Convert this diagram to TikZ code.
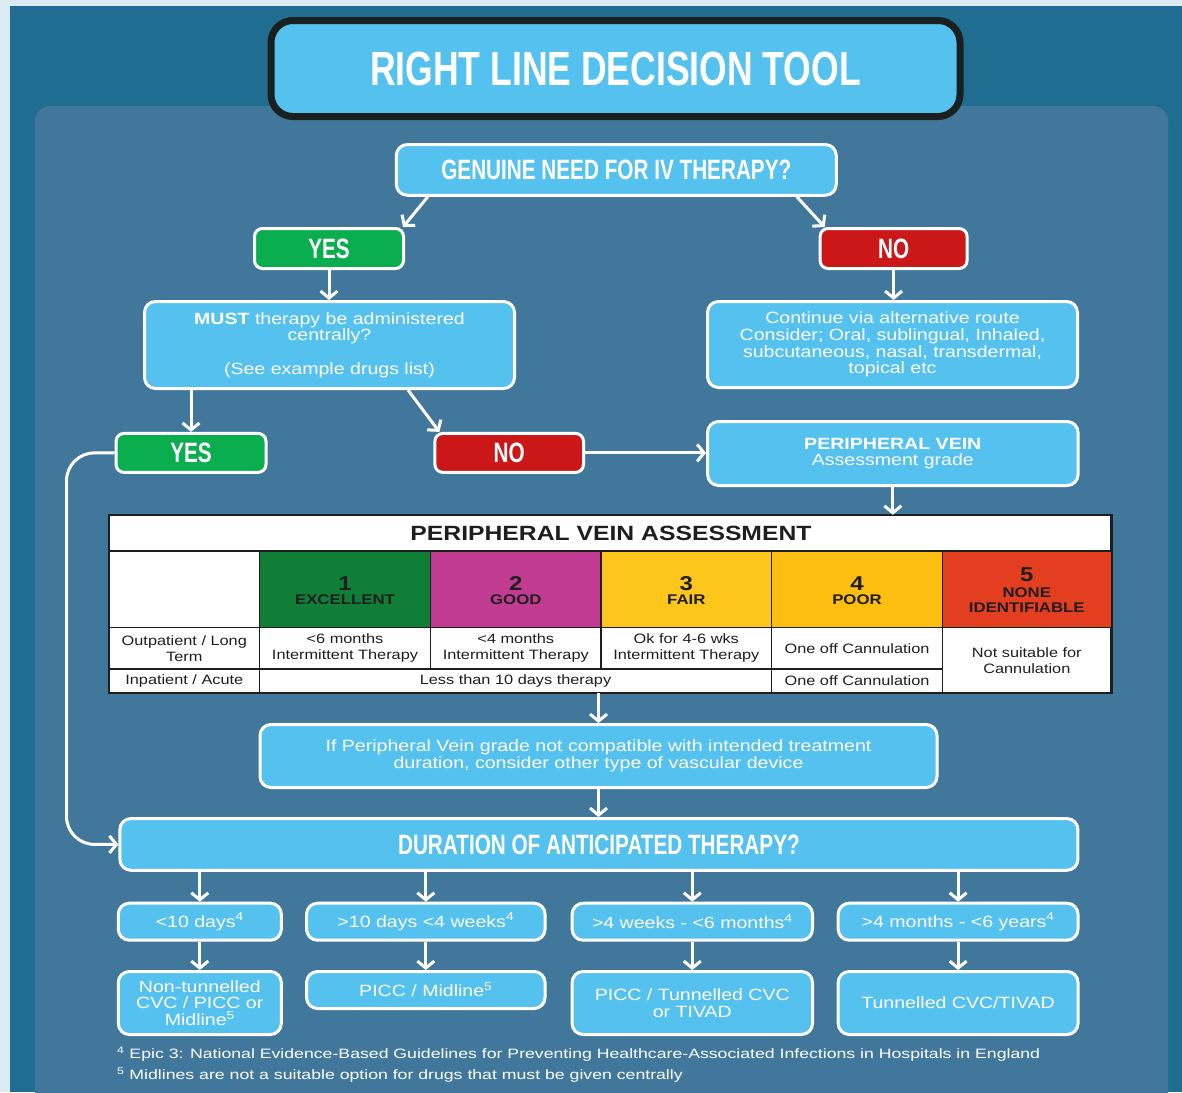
\documentclass[tikz,border=0pt]{standalone}
\usepackage{fontspec}
\setmainfont{Liberation Sans}[FakeStretch=1.2]
\newfontfamily\headfont{Liberation Sans}[FakeStretch=0.74]
\newfontfamily\footfont{Liberation Sans}[FakeStretch=1.3]
\usetikzlibrary{arrows.meta}
\definecolor{pale}{HTML}{DCEBF1}
\definecolor{bgteal}{HTML}{1F6E91}
\definecolor{panel}{HTML}{41779A}
\definecolor{boxblue}{HTML}{55C1EE}
\definecolor{yesgreen}{HTML}{0BAE4F}
\definecolor{nored}{HTML}{CC1719}
\definecolor{gexc}{HTML}{117E37}
\definecolor{ggood}{HTML}{C13B92}
\definecolor{gfair}{HTML}{FCC61C}
\definecolor{gpoor}{HTML}{FDBE10}
\definecolor{gnone}{HTML}{E33E1F}
\definecolor{tabtext}{HTML}{1E1E1E}
\definecolor{titleedge}{HTML}{1A1F20}
\newcommand\bsz{\fontsize{16.3pt}{16.6pt}\selectfont}
\newcommand\tsz{\fontsize{13.6pt}{16pt}\selectfont}
\newcommand\hsz{\headfont\bfseries\fontsize{28pt}{30pt}\selectfont}
\tikzset{
  bbox/.style={draw=white, line width=3pt, fill=boxblue, rounded corners=11pt,
    text=white, align=center, inner sep=0pt, font=\bsz},
  hbox/.style={bbox, font=\hsz},
  yesbox/.style={hbox, fill=yesgreen, rounded corners=8pt},
  nobox/.style={hbox, fill=nored, rounded corners=8pt},
  arr/.style={draw=white, line width=3pt, -{Straight Barb[length=7pt,width=17pt]}},
  grid/.style={draw=tabtext, line width=1.5pt},
  cell/.style={text=tabtext, align=center, inner sep=0pt, font=\tsz},
  grade/.style={text=tabtext, align=center, inner sep=0pt, font=\bfseries\fontsize{14pt}{15pt}\selectfont},
  gnum/.style={text=tabtext, inner sep=0pt, font=\bfseries\fontsize{20pt}{20pt}\selectfont},
  foot/.style={text=white, anchor=west, inner sep=0pt, font=\footfont\fontsize{13.6pt}{14pt}\selectfont},
}
\begin{document}
\begin{tikzpicture}[x=1pt, y=-1pt]
\useasboundingbox (0,0) rectangle (1182,1092);
\clip (0,0) rectangle (1182,1092);
% background
\fill[pale] (0,0) rectangle (1182,1092);
\fill[bgteal] (10,6) rectangle (1182,1092);
\fill[panel, rounded corners=15pt] (35,106) rectangle (1168,1130);

% title
\node[draw=titleedge, line width=7pt, fill=boxblue, rounded corners=22pt,
  minimum width=689pt, minimum height=96pt, inner sep=0pt, text=white,
  font=\headfont\bfseries\fontsize{48pt}{48pt}\selectfont] (title) at (615.5,68.5) {RIGHT LINE DECISION TOOL};

% top flow
\node[hbox, minimum width=440pt, minimum height=50.7pt] (gen) at (616.3,169.9) {GENUINE NEED FOR IV THERAPY?};
\node[yesbox, minimum width=149pt, minimum height=40pt] (yes1) at (329,248.5) {YES};
\node[nobox, minimum width=147pt, minimum height=40pt] (no1) at (893.6,248.5) {NO};
\node[bbox, minimum width=370pt, minimum height=87pt] (must) at (329.5,345)
  {\textbf{MUST} therapy be administered\\centrally?\\[16.6pt](See example drugs list)};
\node[bbox, minimum width=370pt, minimum height=86pt] (cont) at (892.5,344.5)
  {Continue via alternative route\\Consider; Oral, sublingual, Inhaled,\\subcutaneous, nasal, transdermal,\\topical etc};
\node[yesbox, minimum width=150pt, minimum height=39pt] (yes2) at (191,452.9) {YES};
\node[nobox, minimum width=148.6pt, minimum height=39pt] (no2) at (509.2,452.9) {NO};
\node[bbox, minimum width=370.5pt, minimum height=64pt] (pv) at (892.8,453.5)
  {\textbf{PERIPHERAL VEIN}\\Assessment grade};

% table
\node[draw=tabtext, line width=1.5pt, fill=white, minimum width=1002pt, minimum height=177pt, inner sep=0pt] (tab) at (610,604) {};
\fill[gexc]  (259.5,551) rectangle (430.5,627.5);
\fill[ggood] (430.5,551) rectangle (601,627.5);
\fill[gfair] (601,551) rectangle (771.5,627.5);
\fill[gpoor] (771.5,551) rectangle (942.5,627.5);
\fill[gnone] (942.5,551) rectangle (1111,627.5);
\draw[grid] (109,551) -- (1111,551);
\draw[grid] (109,627.5) -- (1111,627.5);
\draw[grid] (109,669) -- (942.5,669);
\draw[grid] (259.5,551) -- (259.5,692.5);
\draw[grid] (430.5,551) -- (430.5,669);
\draw[grid] (601,551) -- (601,669);
\draw[grid] (771.5,551) -- (771.5,692.5);
\draw[grid] (942.5,551) -- (942.5,692.5);
\draw[grid] (tab.north west) rectangle (tab.south east);

\node[text=tabtext, inner sep=0pt, font=\bfseries\fontsize{20.6pt}{21pt}\selectfont] (thead) at (611,533.5) {PERIPHERAL VEIN ASSESSMENT};
\node[gnum] (n1) at (345,584) {1};
\node[grade] (l1) at (345,600) {EXCELLENT};
\node[gnum] (n2) at (515.8,584) {2};
\node[grade] (l2) at (515.8,600) {GOOD};
\node[gnum] (n3) at (686.3,584) {3};
\node[grade] (l3) at (686.3,600) {FAIR};
\node[gnum] (n4) at (857,584) {4};
\node[grade] (l4) at (857,600) {POOR};
\node[gnum] (n5) at (1026.8,575) {5};
\node[grade] (l5) at (1026.8,600) {NONE\\IDENTIFIABLE};

\node[cell] (t31) at (184.3,648.3) {Outpatient / Long\\Term};
\node[cell] (t32) at (345,648.3) {<6 months\\Intermittent Therapy};
\node[cell] (t33) at (515.8,648.3) {<4 months\\Intermittent Therapy};
\node[cell] (t34) at (686.3,648.3) {Ok for 4-6 wks\\Intermittent Therapy};
\node[cell] (t35) at (857,648.3) {One off Cannulation};
\node[cell] (t41) at (184.3,681) {Inpatient / Acute};
\node[cell] (t42) at (515.5,681) {Less than 10 days therapy};
\node[cell] (t45) at (857,681) {One off Cannulation};
\node[cell] (t46) at (1026.8,661) {Not suitable for\\Cannulation};

% lower flow
\node[bbox, minimum width=677pt, minimum height=63pt] (info) at (598.5,756)
  {If Peripheral Vein grade not compatible with intended treatment\\duration, consider other type of vascular device};
\node[hbox, minimum width=958pt, minimum height=51.7pt] (dur) at (598.9,844.4) {DURATION OF ANTICIPATED THERAPY?};

\node[bbox, minimum width=163pt, minimum height=37pt] (d1) at (199.8,921.7) {<10 days\textsuperscript{4}};
\node[bbox, minimum width=238.5pt, minimum height=37pt] (d2) at (425.8,921.7) {>10 days <4 weeks\textsuperscript{4}};
\node[bbox, minimum width=240.4pt, minimum height=37pt] (d3) at (692.3,921.7) {>4 weeks - <6 months\textsuperscript{4}};
\node[bbox, minimum width=239.8pt, minimum height=37pt] (d4) at (958.1,921.7) {>4 months - <6 years\textsuperscript{4}};

\node[bbox, minimum width=163pt, minimum height=63pt] (r1) at (199.8,1003) {Non-tunnelled\\CVC / PICC or\\Midline\textsuperscript{5}};
\node[bbox, minimum width=238.5pt, minimum height=37pt] (r2) at (425.8,990) {PICC / Midline\textsuperscript{5}};
\node[bbox, minimum width=240.4pt, minimum height=63pt] (r3) at (692.3,1003) {PICC / Tunnelled CVC\\or TIVAD};
\node[bbox, minimum width=239.8pt, minimum height=63pt] (r4) at (958.1,1003) {Tunnelled CVC/TIVAD};

\node[foot] (fn4) at (117,1054) {\textsuperscript{4} Epic 3: National Evidence-Based Guidelines for Preventing Healthcare-Associated Infections in Hospitals in England};
\node[foot] (fn5) at (117,1075) {\textsuperscript{5} Midlines are not a suitable option for drugs that must be given centrally};

% connectors
\draw[arr] ([xshift=33pt]gen.south west) -- ([xshift=-2pt]yes1.north east);
\draw[arr] ([xshift=-41pt]gen.south east) -- ([xshift=6pt]no1.north west);
\draw[arr] (yes1.south) -- (yes1.south |- must.north);
\draw[arr] (no1.south) -- (no1.south |- cont.north);
\draw[arr] (yes2.north |- must.south) -- (yes2.north);
\draw[arr] ([xshift=-108pt]must.south east) -- ([xshift=6pt]no2.north west);
\draw[arr] (no2.east) -- (no2.east -| pv.west);
\draw[arr] (pv.south) -- (pv.south |- tab.north);
\draw[arr] (info.north |- tab.south) -- (info.north);
\draw[arr] (info.south) -- (info.south |- dur.north);
\draw[arr, rounded corners=28pt] (yes2.west) -- ++(-48,0) |- (dur.west);
\draw[arr] (d1.north |- dur.south) -- (d1.north);
\draw[arr] (d2.north |- dur.south) -- (d2.north);
\draw[arr] (d3.north |- dur.south) -- (d3.north);
\draw[arr] (d4.north |- dur.south) -- (d4.north);
\draw[arr] (d1.south) -- (r1.north);
\draw[arr] (d2.south) -- (r2.north);
\draw[arr] (d3.south) -- (r3.north);
\draw[arr] (d4.south) -- (r4.north);
\end{tikzpicture}
\end{document}
